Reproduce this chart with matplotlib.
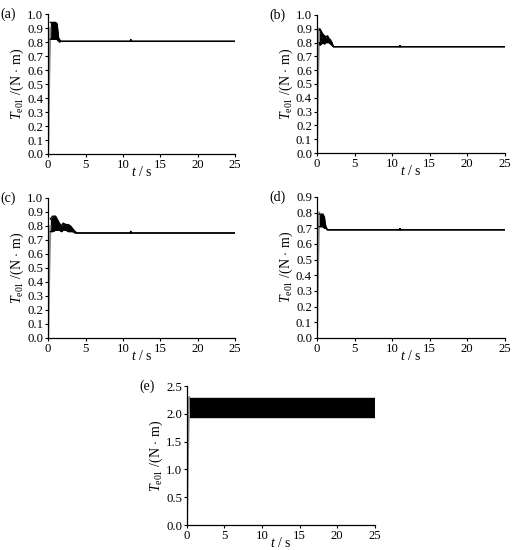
import numpy as np
import matplotlib.pyplot as plt

plt.rcParams['font.family'] = 'Liberation Serif'
plt.rcParams['mathtext.fontset'] = 'custom'
plt.rcParams['mathtext.rm'] = 'Liberation Serif'
plt.rcParams['mathtext.it'] = 'Liberation Serif:italic'
plt.rcParams['font.size'] = 9

# start-up rise (grey) for each case
rise_t = [0.0, 0.05, 0.15, 0.3]
rise_a = [0.0, 0.15, 0.55, 0.90]
rise_b = [0.0, 0.15, 0.55, 0.90]
rise_c = [0.0, 0.12, 0.45, 0.80]
rise_d = [0.0, 0.10, 0.45, 0.80]
rise_e = [0.0, 0.35, 1.30, 2.30]

# oscillation envelope (upper / lower) then steady value, blip near 11 s
t_a = [0.3, 0.5, 1.0, 1.2, 1.3, 1.4, 1.5, 1.7, 11.0, 11.05, 11.1, 25.0]
hi_a = [0.94, 0.94, 0.94, 0.93, 0.88, 0.83, 0.82, 0.805, 0.805, 0.82, 0.805, 0.805]
lo_a = [0.82, 0.82, 0.82, 0.82, 0.81, 0.81, 0.80, 0.805, 0.805, 0.805, 0.805, 0.805]

t_b = [0.3, 0.4, 0.6, 0.8, 1.0, 1.2, 1.4, 1.6, 1.8, 2.0, 2.2, 11.0, 11.05, 11.1, 25.0]
hi_b = [0.89, 0.90, 0.88, 0.86, 0.85, 0.84, 0.85, 0.83, 0.82, 0.80, 0.77, 0.77, 0.78, 0.77, 0.77]
lo_b = [0.80, 0.78, 0.79, 0.80, 0.79, 0.80, 0.80, 0.80, 0.79, 0.78, 0.77, 0.77, 0.77, 0.77, 0.77]

t_c = [0.3, 0.6, 1.0, 1.2, 1.5, 1.8, 2.0, 2.4, 2.7, 3.0, 3.3, 3.6, 3.9, 11.0, 11.05, 11.1, 25.0]
hi_c = [0.85, 0.87, 0.87, 0.85, 0.82, 0.80, 0.82, 0.81, 0.81, 0.80, 0.78, 0.76, 0.75, 0.75, 0.765, 0.75, 0.75]
lo_c = [0.76, 0.76, 0.77, 0.77, 0.77, 0.76, 0.77, 0.77, 0.76, 0.76, 0.76, 0.75, 0.75, 0.75, 0.75, 0.75, 0.75]

t_d = [0.3, 0.5, 0.8, 1.0, 1.1, 1.2, 1.4, 11.0, 11.05, 11.1, 25.0]
hi_d = [0.79, 0.79, 0.79, 0.77, 0.73, 0.71, 0.69, 0.69, 0.70, 0.69, 0.69]
lo_d = [0.71, 0.71, 0.71, 0.70, 0.70, 0.70, 0.69, 0.69, 0.69, 0.69, 0.69]

t_e = [0.35, 25.0]
hi_e = [2.29, 2.29]
lo_e = [1.94, 1.94]

panels = [
    ('(a)', [0.094, 0.72, 0.365, 0.2545], 1.0, rise_a, t_a, hi_a, lo_a),
    ('(b)', [0.619, 0.7218, 0.367, 0.251], 1.0, rise_b, t_b, hi_b, lo_b),
    ('(c)', [0.094, 0.3855, 0.365, 0.2545], 1.0, rise_c, t_c, hi_c, lo_c),
    ('(d)', [0.619, 0.3855, 0.367, 0.2565], 0.9, rise_d, t_d, hi_d, lo_d),
    ('(e)', [0.365, 0.04545, 0.367, 0.2525], 2.5, rise_e, t_e, hi_e, lo_e),
]

fig = plt.figure(figsize=(5.12, 5.5), dpi=100)

for name, pos, ymax, rise, t, hi, lo in panels:
    ax = fig.add_axes(pos)
    ax.plot(rise_t, rise, color='0.55', lw=1.4)
    ax.fill_between(t, lo, hi, color='black', lw=0)
    ax.plot(t, hi, color='black', lw=1.0, solid_joinstyle='miter')
    ax.plot(t, lo, color='black', lw=1.0, solid_joinstyle='miter')
    ax.set_xlim(0, 25)
    ax.set_ylim(0, ymax)
    ax.set_xticks([0, 5, 10, 15, 20, 25])
    if ymax == 2.5:
        ax.set_yticks(np.arange(0, 2.51, 0.5))
    else:
        ax.set_yticks(np.arange(0, ymax + 0.01, 0.1))
    ax.yaxis.set_major_formatter(plt.FormatStrFormatter('%.1f'))
    ax.spines['top'].set_visible(False)
    ax.spines['right'].set_visible(False)
    for s in ['left', 'bottom']:
        ax.spines[s].set_linewidth(0.9)
    ax.tick_params(direction='out', length=2.5, width=0.8, labelsize=9.2, pad=1)
    ax.set_xlabel(r'$t$ / s', fontsize=10, labelpad=-4)
    ax.set_ylabel(r'$T_{\rm e01}$ /(N$\,\cdot\,$m)', fontsize=10, labelpad=1)
    ax.text(-0.255, 1.0, name, transform=ax.transAxes, fontsize=10, va='center')

plt.savefig('out.png', dpi=100)
